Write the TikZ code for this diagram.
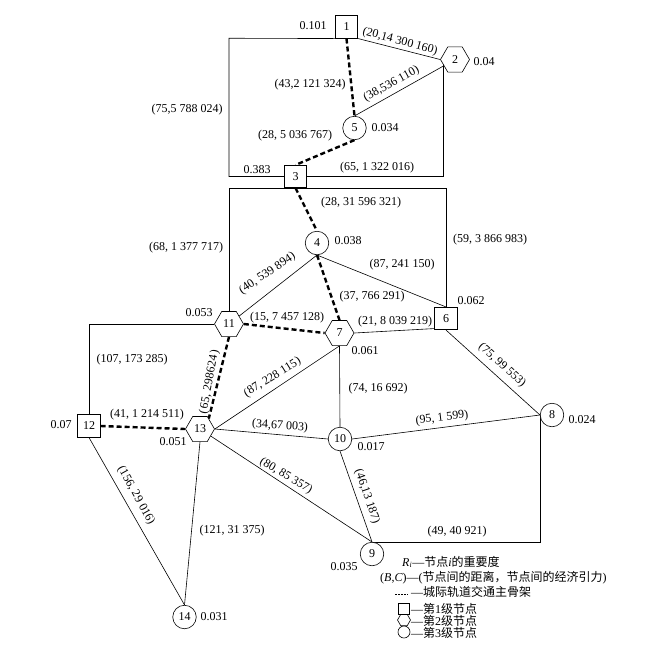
\documentclass[tikz,border=0pt]{standalone}
\usepackage{fontspec}
\setmainfont{Liberation Serif}
\newfontfamily\cjk{Noto Sans CJK SC}
\usetikzlibrary{shapes.geometric,backgrounds}
\begin{document}
\begin{tikzpicture}[x=1pt,y=-1pt,font=\fontsize{12}{14}\selectfont,
  sq/.style={draw,rectangle,minimum size=22.5pt,inner sep=0pt,fill=white,line width=0.6pt},
  hx/.style={draw,regular polygon,regular polygon sides=6,minimum size=29pt,inner sep=0pt,fill=white,line width=0.6pt},
  cc/.style={draw,circle,minimum size=23.5pt,inner sep=0pt,fill=white,line width=0.6pt},
  lk/.style={line width=0.6pt},
  bb/.style={line width=2.4pt,dash pattern=on 5pt off 3pt},
  lab/.style={inner sep=0pt},
  lg/.style={inner sep=0pt,anchor=west}]
\useasboundingbox (0,0) rectangle (659,657);
% nodes
\node[sq] (1) at (346.5,27) {1};
\node[hx] (2) at (455,59.5) {2};
\node[sq] (3) at (295.5,176.5) {3};
\node[cc] (4) at (317,243) {4};
\node[cc] (5) at (354.5,128) {5};
\node[sq] (6) at (446,318.5) {6};
\node[hx] (7) at (339.5,333) {7};
\node[cc] (8) at (552,415) {8};
\node[cc] (9) at (372,554) {9};
\node[cc] (10) at (340,439) {10};
\node[hx] (11) at (229,324) {11};
\node[sq] (12) at (89,426) {12};
\node[hx] (13) at (200,429) {13};
\node[cc] (14) at (184.5,617) {14};
% corner coordinates
\coordinate (r1a) at (229,38.25);
\coordinate (r1b) at (229,176.5);
\coordinate (r1c) at (443,176.5);
\coordinate (r2a) at (229,188);
\coordinate (r2b) at (446,188);
\begin{scope}[on background layer]
\draw[lk] (1.south west) -- (r1a) -- (r1b) -- (3.west);
\draw[lk] (3.east) -- (r1c) -- (r1c |- 2.center);
\draw[lk] (11) -- (r2a) -- (r2b) -- (6);
\draw[lk] (12) |- (11);
\draw[lk] (9.north) -| (8.west);
\draw[bb] (1.south) -- (5.north);
\draw[lk] (1.south east) -- (2.180);
\draw[lk] (2) -- (5.north);
\draw[bb] (5.south) -- (3.north);
\draw[bb] (3.south) -- (4.north);
\draw[lk] (4.south) -- (11);
\draw[lk] (4.south) -- (6.north);
\draw[bb] (4.south) -- (7.90);
\draw[bb] (11.0) -- (7.180);
\draw[lk] (7.0) -- ([yshift=1.5pt]6.south west);
\draw[bb] (11.270) -- (13.50);
\draw[bb] (12.east) -- (13.180);
\draw[lk] (7.270) -- (13.0);
\draw[lk] (13.0) -- (10.west);
\draw[lk] (13) -- (9.north);
\draw[lk] (13.270) -- (14.north);
\draw[lk] (12.south) -- (14.north);
\draw[lk] (7.270) -- (10.north);
\draw[lk] (10.east) -- (8.west);
\draw[lk] (10.south) -- (9.north);
\draw[lk] (6.south) -- (8.west);
\end{scope}
% importance values
\node[lab] (v1) at (313,26) {0.101};
\node[lab] (v2) at (484,62) {0.04};
\node[lab] (v5) at (385,128) {0.034};
\node[lab] (v3) at (257,170) {0.383};
\node[lab] (v4) at (348,241) {0.038};
\node[lab] (v6) at (471,301) {0.062};
\node[lab] (v11) at (199,313) {0.053};
\node[lab] (v7) at (365,351) {0.061};
\node[lab] (v12) at (61,425) {0.07};
\node[lab] (v13) at (173,442) {0.051};
\node[lab] (v10) at (371,447) {0.017};
\node[lab] (v8) at (582,420) {0.024};
\node[lab] (v9) at (344,567) {0.035};
\node[lab] (v14) at (214,617) {0.031};
% edge labels
\node[lab,rotate=-15] (e12) at (400,41.5) {(20,14 300 160)};
\node[lab,rotate=29] (e25) at (391.5,84) {(38,536 110)};
\node[lab] (e15) at (310,85) {(43,2 121 324)};
\node[lab] (e13) at (187,110) {(75,5 788 024)};
\node[lab] (e53) at (295,136) {(28, 5 036 767)};
\node[lab] (e32) at (377,168) {(65, 1 322 016)};
\node[lab] (e34) at (361,203) {(28, 31 596 321)};
\node[lab] (e36) at (490,240) {(59, 3 866 983)};
\node[lab] (e311) at (186,248) {(68, 1 377 717)};
\node[lab] (e46) at (402,265) {(87, 241 150)};
\node[lab,rotate=34] (e411) at (267.5,273.5) {(40, 539 894)};
\node[lab] (e47) at (372,297) {(37, 766 291)};
\node[lab] (e117) at (287,318) {(15, 7 457 128)};
\node[lab] (e76) at (395,322) {(21, 8 039 219)};
\node[lab] (e1211) at (132,360) {(107, 173 285)};
\node[lab,rotate=79.5] (e1113) at (209.5,382) {(\,65, 298624\,)};
\node[lab,rotate=32] (e137) at (272.5,377.5) {(87, 228 115)};
\node[lab] (e1213) at (147,415) {(41, 1 214 511)};
\node[lab,rotate=-4] (e1310) at (280,426) {(34,67 003)};
\node[lab,rotate=-31] (e139) at (286,476) {(80, 85 357)};
\node[lab,rotate=-61] (e1214) at (136,495.5) {(156, 29 016)};
\node[lab] (e1314) at (232,531) {(121, 31 375)};
\node[lab] (e710) at (378,389) {(74, 16 692)};
\node[lab,rotate=-42] (e68) at (502,365) {(75, 99 553)};
\node[lab,rotate=7] (e108) at (442,418) {(95, 1 599)};
\node[lab,rotate=-71] (e109) at (367,496.5) {(46,13 187)};
\node[lab] (e98) at (457,532) {(49, 40 921)};
% legend
\node[lg] (lg1) at (402,562) {\textit{R}\textsubscript{\textit{i}}—{\cjk 节点}\textit{i}{\cjk 的重要度}};
\node[lg] (lg2) at (380,578) {(\textit{B},\textit{C})—({\cjk 节点间的距离，节点间的经济引力})};
\coordinate (ld1) at (395,594.5);
\coordinate (ld2) at (408,594.5);
\draw[line width=1.1pt,dash pattern=on 2pt off 1pt] (ld1) -- (ld2);
\node[lg] (lg3) at (411,592) {—{\cjk 城际轨道交通主骨架}};
\node[draw,rectangle,minimum size=11pt,inner sep=0pt,line width=0.6pt] (ls1) at (404,608.5) {};
\node[draw,regular polygon,regular polygon sides=6,minimum size=13pt,inner sep=0pt,line width=0.6pt] (ls2) at (404,620) {};
\node[draw,circle,minimum size=12pt,inner sep=0pt,line width=0.6pt] (ls3) at (404,632) {};
\node[lg] (lg4) at (411,609) {—{\cjk 第}1{\cjk 级节点}};
\node[lg] (lg5) at (411,621) {—{\cjk 第}2{\cjk 级节点}};
\node[lg] (lg6) at (411,633) {—{\cjk 第}3{\cjk 级节点}};
\end{tikzpicture}
\end{document}
